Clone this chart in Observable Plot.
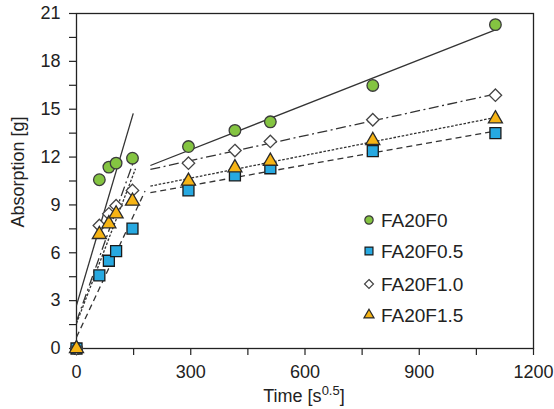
<!DOCTYPE html>
<html>
<head>
<meta charset="utf-8">
<script src="https://cdn.jsdelivr.net/npm/d3@7"></script>
<script src="https://cdn.jsdelivr.net/npm/@observablehq/plot@0.6"></script>
<style>
  html, body { margin: 0; padding: 0; background: #fff; }
  #chart { width: 554px; height: 409px; }
</style>
</head>
<body>
<div id="chart"></div>
<script>
// ---- data ----
const seriesNames = ["FA20F0", "FA20F0.5", "FA20F1.0", "FA20F1.5"];
const time = [0, 60, 85, 104, 147, 294, 416, 509, 778, 1100];
const valuesF0   = [0, 10.58, 11.37, 11.62, 11.93, 12.66, 13.67, 14.21, 16.49, 20.30];
const valuesF05  = [0, 4.58, 5.50, 6.10, 7.52, 9.91, 10.85, 11.30, 12.37, 13.50];
const valuesF10  = [0, 7.71, 8.44, 8.95, 9.91, 11.62, 12.41, 12.98, 14.34, 15.88];
const valuesF15  = [0, 7.15, 7.82, 8.44, 9.24, 10.49, 11.33, 11.74, 13.04, 14.40];
const earlyCount = 5;                 // first stage points (incl. origin)
const earlyEnd   = [149, 180, 150, 155]; // x where stage-1 fit lines stop
const lateStart  = 194;               // x where stage-2 fit lines start
const lateEnd    = 1100;
const xTicks = [0, 300, 600, 900, 1200];
const xMinorTicks = [150, 450, 750, 1050];
const yTicks = [0, 3, 6, 9, 12, 15, 18, 21];
const yMinorTicks = [1.5, 4.5, 7.5, 10.5, 13.5, 16.5, 19.5];

// ---- styles ----
const seriesValues = [valuesF0, valuesF05, valuesF10, valuesF15];
const symbols = ["circle", "square", "diamond2", "triangle"];
const fills   = ["#84c441", "#27a9e1", "#ffffff", "#f6b415"];
const strokes = ["#3b3b3b", "#1a1a1a", "#444444", "#2a2a2a"];
const radii   = [5.8, 6.2, 5.6, 5.2];
const dashes  = [null, "6,4", "10,3.5,2,3.5", "2.6,1.6"];

function fit(xs, ys) {
  const mx = d3.mean(xs), my = d3.mean(ys);
  let sxy = 0, sxx = 0;
  xs.forEach((x, i) => { sxy += (x - mx) * (ys[i] - my); sxx += (x - mx) ** 2; });
  const b = sxy / sxx;
  return {slope: b, intercept: my - b * mx};
}

const rows = seriesNames.map((s, k) => time.map((t, i) => ({series: s, time: t, value: seriesValues[k][i]})));

const fitLines = seriesNames.map((s, k) => {
  const e = fit(time.slice(0, earlyCount), seriesValues[k].slice(0, earlyCount));
  const l = fit(time.slice(earlyCount), seriesValues[k].slice(earlyCount));
  return [
    {x1: 0, y1: e.intercept, x2: earlyEnd[k], y2: e.intercept + e.slope * earlyEnd[k]},
    {x1: lateStart, y1: l.intercept + l.slope * lateStart, x2: lateEnd, y2: l.intercept + l.slope * lateEnd}
  ];
});

const lineMarks = fitLines.map((segs, k) => Plot.link(segs, {
  x1: "x1", y1: "y1", x2: "x2", y2: "y2",
  stroke: "#333", strokeWidth: 1.3,
  strokeDasharray: dashes[k] || undefined
}));

const dotMarks = rows.map((data, k) => Plot.dot(data, {
  x: "time", y: "value", symbol: () => symbols[k],
  r: radii[k], fill: fills[k], stroke: strokes[k], strokeWidth: 1.3
}));

const chart = Plot.plot({
  width: 554,
  height: 409,
  marginLeft: 76,
  marginRight: 21,
  marginTop: 13,
  marginBottom: 61,
  x: {domain: [0, 1200]},
  y: {domain: [0, 21]},
  symbol: {type: "identity"},
  style: {fontFamily: "'Liberation Sans', Arial, sans-serif", fontSize: "18px", color: "#222", background: "#fff", overflow: "visible"},
  marks: [
    Plot.axisX({ticks: xMinorTicks, tickSize: 7, text: null, label: null, strokeWidth: 1.2}),
    Plot.axisX({ticks: xTicks, tickSize: 7, tickPadding: 10, label: null, strokeWidth: 1.2, fontSize: 18, tickFormat: d3.format("d")}),
    Plot.axisY({ticks: yMinorTicks, tickSize: 7, text: null, label: null, strokeWidth: 1.2}),
    Plot.axisY({ticks: yTicks, tickSize: 7, tickPadding: 9, label: null, strokeWidth: 1.2, fontSize: 18, tickFormat: d3.format("d")}),
    Plot.frame({stroke: "#222", strokeWidth: 1.3}),
    ...lineMarks,
    ...dotMarks
  ]
});

document.getElementById("chart").appendChild(chart);

// ---- axis titles and in-plot legend ----
const svg = d3.select(chart);
const fontFam = "'Liberation Sans', Arial, sans-serif";

const xt = svg.append("text")
  .attr("x", 304).attr("y", 402)
  .attr("text-anchor", "middle")
  .attr("font-family", fontFam).attr("font-size", 18).attr("fill", "#222");
xt.append("tspan").text("Time [s");
xt.append("tspan").attr("dy", -7).attr("font-size", 13).text("0.5");
xt.append("tspan").attr("dy", 7).text("]");

svg.append("text")
  .attr("transform", "translate(24,172) rotate(-90)")
  .attr("text-anchor", "middle")
  .attr("font-family", fontFam).attr("font-size", 18).attr("fill", "#222")
  .text("Absorption [g]");

const d3Symbols = [d3.symbolCircle, d3.symbolSquare, d3.symbolDiamond2, d3.symbolTriangle];
const legendY = [220, 251, 284, 315];
const legend = svg.append("g");
seriesNames.forEach((name, k) => {
  const g = legend.append("g").attr("transform", `translate(369,${legendY[k]})`);
  g.append("path")
    .attr("d", d3.symbol(d3Symbols[k], Math.PI * (radii[k] * 0.72) ** 2)())
    .attr("fill", fills[k]).attr("stroke", strokes[k]).attr("stroke-width", 1.2);
  g.append("text")
    .attr("x", 12).attr("y", 0).attr("dy", "0.36em")
    .attr("text-anchor", "start")
    .attr("font-family", fontFam).attr("font-size", 19).attr("fill", "#222")
    .text(name);
});
</script>
</body>
</html>
